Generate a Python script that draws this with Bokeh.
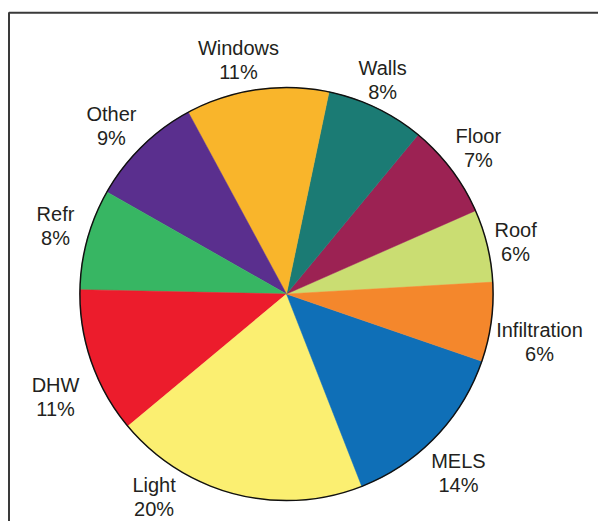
import numpy as np
from bokeh.plotting import figure
from bokeh.models import ColumnDataSource, Range1d
from bokeh.core.properties import value
from bokeh.embed import file_html
from bokeh.resources import INLINE

# ---- data (counter-clockwise order, starting at the Roof/Infiltration boundary) ----
categories = ["Roof", "Floor", "Walls", "Windows", "Other", "Refr", "DHW", "Light", "MELS", "Infiltration"]
shares = [5.7, 7.4, 7.7, 11.2, 8.9, 7.9, 11.4, 19.9, 13.8, 6.2]
pct_labels = ["6%", "7%", "8%", "11%", "9%", "8%", "11%", "20%", "14%", "6%"]
colors = ["#CADD72", "#9C2253", "#1B7B74", "#F9B52B", "#5A2F8E",
          "#37B663", "#EC1C2C", "#FBEF71", "#0F6FB7", "#F4872C"]

# ---- layout ----
W, H = 598, 521
cx, cy = 286.0, H - 293.5
R = 206.6
start_deg = 3.3
label_angle_deg = [12.9, 37.25, 65.8, 101.6, 136.1, 163.6, 204.1, 236.9, 313.9, 349.15]
label_radius = [235, 241, 234.5, 238.9, 243, 240.8, 253, 242.5, 247.9, 257.6]

s = np.array(shares, dtype=float)
frac = s / s.sum()
ends = np.deg2rad(start_deg) + 2 * np.pi * np.cumsum(frac)
starts = np.concatenate([[np.deg2rad(start_deg)], ends[:-1]])

src = ColumnDataSource(dict(
    x=[cx] * len(categories), y=[cy] * len(categories),
    start=starts, end=ends, color=colors, cat=categories,
))

la = np.deg2rad(label_angle_deg)
lr = np.array(label_radius)
lab = ColumnDataSource(dict(
    x=cx + lr * np.cos(la), y=cy + lr * np.sin(la),
    name=categories, pct=pct_labels,
))

p = figure(width=W, height=H, x_range=Range1d(0, W), y_range=Range1d(0, H),
           x_axis_type=None, y_axis_type=None, toolbar_location=None,
           output_backend="svg", min_border=0)
p.grid.visible = False
p.outline_line_color = None
p.background_fill_color = "white"
p.border_fill_color = "white"

# frame (left and top edges visible in the window)
p.line(x=[8.5, 8.5, 800], y=[-50, H - 12.3, H - 12.3], line_color="#3a3a3a", line_width=2)

p.wedge(x="x", y="y", radius=R, start_angle="start", end_angle="end",
        direction="anticlock", fill_color="color", line_color="color",
        line_width=0.5, source=src)
p.circle(x=[cx], y=[cy], radius=R, fill_color=None, line_color="#111111", line_width=1.5)

common = dict(text_align="center", text_baseline="middle",
              text_font=value("Liberation Sans"), text_font_size="20px",
              text_color="#231f20", source=lab)
p.text(x="x", y="y", text="name", y_offset=-12, **common)
p.text(x="x", y="y", text="pct", y_offset=12, **common)

open("out.html", "w").write(file_html(p, INLINE))
